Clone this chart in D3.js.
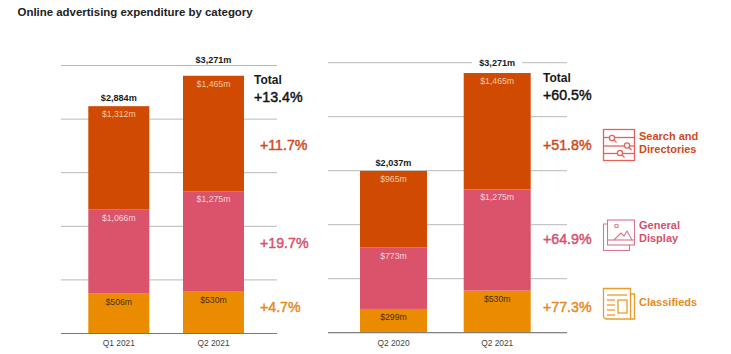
<!DOCTYPE html>
<html>
<head>
<meta charset="utf-8">
<script src="https://cdn.jsdelivr.net/npm/d3@7"></script>
<style>
html, body { margin: 0; padding: 0; background: #fff; }
svg { display: block; font-family: "Liberation Sans", Arial, sans-serif; }
</style>
</head>
<body>
<svg id="chart" width="731" height="354"></svg>
<script>
var categories = ['Classifieds', 'General Display', 'Search and Directories'];
var colors = ['#eb8c00', '#db536a', '#d04a02'];
var labelColors = ['#4a3000', '#f6d3da', '#f5c9a8'];
var pctColors = ['#e58a1f', '#d6506e', '#d04a1c'];

var leftPeriods = ['Q1 2021', 'Q2 2021'];
var leftValues = [[506, 1066, 1312], [530, 1275, 1465]];
var leftTotals = ['$2,884m', '$3,271m'];
var leftChange = ['+4.7%', '+19.7%', '+11.7%'];

var rightPeriods = ['Q2 2020', 'Q2 2021'];
var rightValues = [[299, 773, 965], [530, 1275, 1465]];
var rightTotals = ['$2,037m', '$3,271m'];
var rightChange = ['+77.3%', '+64.9%', '+51.8%'];

var gridTicks = [0, 680, 1360, 2040, 2720, 3400];

var svg = d3.select('#chart');

svg.append('text').attr('x', 17.5).attr('y', 16)
    .attr('font-size', 11.45).attr('font-weight', 'bold').attr('fill', '#222')
    .text('Online advertising expenditure by category');

function panel(o) {
    var x = d3.scaleBand().domain(o.periods).range([o.barL, o.barR]).paddingInner(o.pad);
    var y = d3.scaleLinear().domain([0, 3400]).range([o.base, o.top]);
    var g = svg.append('g');

    // gridlines, tick labels removed
    var grid = g.append('g').attr('transform', 'translate(' + o.gridL + ',0)')
        .call(d3.axisLeft(y).tickValues(gridTicks).tickSize(-(o.gridR - o.gridL)).tickFormat(''));
    grid.select('.domain').remove();
    grid.selectAll('.tick line').attr('stroke', '#b9b9b9').attr('stroke-width', 1);
    grid.selectAll('.tick').attr('transform', function (d) { return 'translate(0,' + y(d) + ')'; });

    var stack = d3.stack().keys([0, 1, 2])(o.values);
    stack.forEach(function (layer, i) {
        layer.forEach(function (d, j) {
            var p = o.periods[j];
            g.append('rect')
                .attr('x', x(p)).attr('width', x.bandwidth())
                .attr('y', y(d[1])).attr('height', y(d[0]) - y(d[1]))
                .attr('fill', colors[i]);
            g.append('text')
                .attr('x', x(p) + x.bandwidth() / 2).attr('y', y(d[1]) + 11)
                .attr('text-anchor', 'middle').attr('font-size', 8.7)
                .attr('fill', labelColors[i])
                .text('$' + d3.format(',')(o.values[j][i]) + 'm');
        });
    });

    // baseline and period labels
    var axis = g.append('g').attr('transform', 'translate(0,' + o.base + ')')
        .call(d3.axisBottom(x).tickSize(0).tickPadding(7));
    axis.select('.domain').remove();
    axis.selectAll('text').attr('font-size', 8.4).attr('font-family', 'inherit').attr('fill', '#444');
    g.append('line').attr('x1', o.gridL).attr('x2', o.gridR).attr('y1', o.base).attr('y2', o.base)
        .attr('stroke', '#777').attr('stroke-width', 1);

    // totals above the bars
    o.totals.forEach(function (t, j) {
        var sum = d3.sum(o.values[j]);
        var cx = x(o.periods[j]) + x.bandwidth() / 2;
        var ty = sum > 3000 ? o.top - 2.5 : y(sum) - 5;
        if (o.breakTop && sum > 3000) {
            ty = o.top + 3;
            g.append('rect').attr('x', cx - 25).attr('width', 50)
                .attr('y', o.top - 3).attr('height', 6).attr('fill', '#fff');
        }
        g.append('text').attr('x', cx).attr('y', ty)
            .attr('text-anchor', 'middle').attr('font-size', 9.1).attr('font-weight', 'bold')
            .attr('fill', '#1a1a1a').text(t);
    });

    // total change
    g.append('text').attr('x', o.pctX - o.totalIndent).attr('y', o.totalY)
        .attr('font-size', 12).attr('font-weight', 'bold').attr('fill', '#1a1a1a').text('Total');
    g.append('text').attr('x', o.pctX - o.totalIndent).attr('y', o.totalY + 18)
        .attr('font-size', 14.2).attr('fill', '#111').attr('stroke', '#111').attr('stroke-width', 0.45)
        .text(o.total);

    o.change.forEach(function (c, i) {
        g.append('text').attr('x', o.pctX).attr('y', o.pctY[i])
            .attr('font-size', 14.2).attr('fill', pctColors[i])
            .attr('stroke', pctColors[i]).attr('stroke-width', 0.45)
            .text(c);
    });
}

panel({
    periods: leftPeriods, values: leftValues, totals: leftTotals, change: leftChange,
    barL: 88.3, barR: 244, pad: 0.356, gridL: 61, gridR: 277, base: 333.5, top: 65.5,
    pctX: 260, totalIndent: 6, totalY: 84, total: '+13.4%', pctY: [312, 248, 150]
});

panel({
    periods: rightPeriods, values: rightValues, totals: rightTotals, change: rightChange,
    barL: 360, barR: 530.7, pad: 0.354, gridL: 328, gridR: 567, base: 332.7, top: 62.7,
    breakTop: true, pctX: 543, totalIndent: 0, totalY: 81.7, total: '+60.5%', pctY: [312, 244, 150]
});

// legend
var legendLines = [['Classifieds'], ['General', 'Display'], ['Search and', 'Directories']];
var legendY = [306, 229, 140];
legendLines.forEach(function (lines, i) {
    lines.forEach(function (t, k) {
        svg.append('text').attr('x', 639).attr('y', legendY[i] + k * 13)
            .attr('font-size', 11).attr('font-weight', 'bold').attr('fill', pctColors[i]).text(t);
    });
});

// legend icons
function icon(color) {
    return svg.append('g').attr('fill', 'none').attr('stroke', color).attr('stroke-width', 1.1);
}
var ic = icon('#e8605a');
ic.attr('stroke-width', 1.3);
ic.append('rect').attr('x', 603.5).attr('y', 129.5).attr('width', 31).attr('height', 31);
[137.5, 146, 153.5].forEach(function (ly) {
    ic.append('line').attr('x1', 603.5).attr('x2', 634.5).attr('y1', ly).attr('y2', ly);
});
[[612, 138], [627, 145.5], [620, 153]].forEach(function (c) {
    ic.append('circle').attr('cx', c[0]).attr('cy', c[1]).attr('r', 2.6).attr('fill', '#fff');
    ic.append('line').attr('x1', c[0] + 2).attr('y1', c[1] + 2).attr('x2', c[0] + 4.5).attr('y2', c[1] + 4.5);
});

ic = icon('#d9748a');
ic.append('path').attr('d', 'M607.5 224H603.5V250.5H629.5V245');
ic.append('rect').attr('x', 607.5).attr('y', 220).attr('width', 27).attr('height', 25);
ic.append('line').attr('x1', 607.5).attr('x2', 634.5).attr('y1', 240).attr('y2', 240);
ic.append('circle').attr('cx', 616.5).attr('cy', 226).attr('r', 1.8);
ic.append('path').attr('d', 'M614 240L621 233L624 236L627 231L632 240');

ic = icon('#ec9a2a');
ic.attr('stroke-width', 1.3);
ic.append('path').attr('d', 'M603.5 288.5H630.5V319H607Q603.5 319 603.5 315.5Z');
ic.append('path').attr('d', 'M630.5 294H634.5V319H630.5');
ic.append('line').attr('x1', 607).attr('x2', 627).attr('y1', 295).attr('y2', 295);
[300, 305, 310, 315].forEach(function (ly) {
    ic.append('line').attr('x1', 607).attr('x2', 615).attr('y1', ly).attr('y2', ly);
});
ic.append('rect').attr('x', 618).attr('y', 300).attr('width', 9).attr('height', 13);
</script>
</body>
</html>
